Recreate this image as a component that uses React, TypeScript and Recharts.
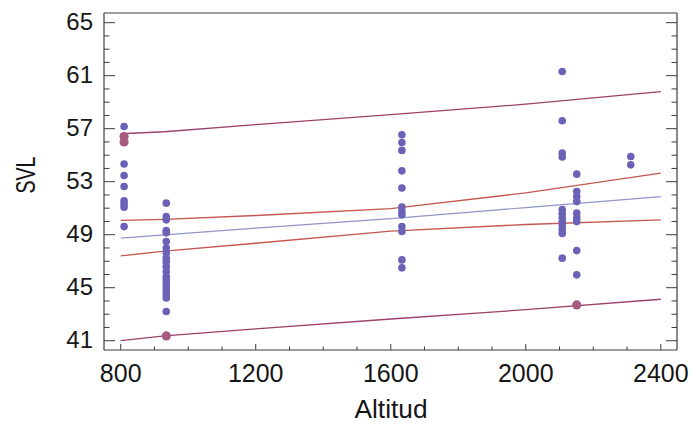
import { ComposedChart, Scatter, Line, XAxis, YAxis } from 'recharts';

// axis ticks
const xMajor = [800, 1200, 1600, 2000, 2400];
const xTicks = [800, 900, 1000, 1100, 1200, 1300, 1400, 1500, 1600, 1700, 1800, 1900, 2000, 2100, 2200, 2300, 2400];
const yMajor = [41, 45, 49, 53, 57, 61, 65];
const yTicks = [41, 42, 43, 44, 45, 46, 47, 48, 49, 50, 51, 52, 53, 54, 55, 56, 57, 58, 59, 60, 61, 62, 63, 64, 65];

const bandAlt = [800, 930, 1200, 1600, 2000, 2400];
const fitSVL = [48.74, 48.98, 49.5, 50.22, 51.05, 51.88];
const confUpper = [50.08, 50.16, 50.45, 50.97, 52.16, 53.65];
const confLower = [47.4, 47.76, 48.36, 49.27, 49.77, 50.12];
const predUpper = [56.62, 56.77, 57.31, 58.06, 58.85, 59.79];
const predLower = [41.01, 41.36, 41.9, 42.64, 43.34, 44.13];

// observations per site
const siteAlt = [810, 935, 1633, 2108, 2151, 2311];
const svl810 = [57.17, 54.33, 53.47, 52.64, 51.56, 51.33, 51.08, 49.61];
const svl935 = [51.38, 50.37, 50.12, 49.31, 49.14, 48.48, 48.0, 47.63, 47.23, 46.95, 46.59, 46.22, 45.84, 45.59, 45.34, 45.06, 44.76, 44.46, 44.23, 43.2];
const svl1633 = [56.54, 55.96, 55.36, 53.82, 52.52, 51.08, 50.75, 50.5, 49.61, 49.24, 47.1, 46.5];
const svl2108 = [61.32, 57.6, 55.16, 54.86, 50.9, 50.6, 50.3, 50.0, 49.7, 49.4, 49.1, 47.23];
const svl2151 = [53.57, 52.26, 51.88, 51.5, 50.63, 50.27, 49.99, 47.8, 45.97];
const svl2311 = [54.9, 54.27];

// highlighted points
const flaggedAlt = [810, 810, 935, 2151];
const flaggedSVL = [56.41, 56.0, 41.36, 43.7];

const siteSVL = [svl810, svl935, svl1633, svl2108, svl2151, svl2311];
const points = siteAlt.flatMap((alt, i) => siteSVL[i].map((svl) => ({ alt, svl })));
const flagged = flaggedAlt.map((alt, i) => ({ alt, svl: flaggedSVL[i] }));
const bands = bandAlt.map((alt, i) => ({
  alt,
  fit: fitSVL[i],
  cu: confUpper[i],
  cl: confLower[i],
  pu: predUpper[i],
  pl: predLower[i],
}));

const X_DOMAIN = [750.5, 2448];
const Y_DOMAIN = [40.3, 65.73];
const AXIS = '#3c3c3c';
const FONT = '"Liberation Sans", Arial, Helvetica, sans-serif';
const TEXT = '#161616';

function BottomTick({ x, y, payload }: any) {
  const major = xMajor.includes(payload.value);
  return (
    <g>
      <line x1={x} x2={x} y1={y} y2={y - (major ? 6 : 3.5)} stroke={AXIS} />
      {major && (
        <text x={x} y={y + 31.5} textAnchor="middle" fontSize={25} fontFamily={FONT} fill={TEXT}>
          {payload.value}
        </text>
      )}
    </g>
  );
}

function TopTick({ x, y, payload }: any) {
  const major = xMajor.includes(payload.value);
  return <line x1={x} x2={x} y1={y} y2={y + (major ? 6 : 3.5)} stroke={AXIS} />;
}

function LeftTick({ x, y, payload }: any) {
  const major = yMajor.includes(payload.value);
  return (
    <g>
      <line x1={x} x2={x + (major ? 11 : 5.5)} y1={y} y2={y} stroke={AXIS} />
      {major && (
        <text x={x - 11} y={y + 7.5} textAnchor="end" fontSize={24} fontFamily={FONT} fill={TEXT}>
          {payload.value}
        </text>
      )}
    </g>
  );
}

function RightTick({ x, y, payload }: any) {
  const major = yMajor.includes(payload.value);
  return <line x1={x} x2={x - (major ? 11 : 5.5)} y1={y} y2={y} stroke={AXIS} />;
}

const Dot = (p: any) => <circle cx={p.cx} cy={p.cy} r={3.8} fill="#6a62b6" />;
const FlagDot = (p: any) => <circle cx={p.cx} cy={p.cy} r={4.6} fill="#a65c7e" />;

export default function App() {
  return (
    <div style={{ position: 'absolute', left: 0, top: 0, background: '#fff' }}>
      <ComposedChart width={691} height={425} margin={{ top: 13, right: 14, bottom: 0, left: 0 }}>
        <XAxis
          xAxisId="b"
          dataKey="alt"
          type="number"
          domain={X_DOMAIN}
          allowDataOverflow
          ticks={xTicks}
          interval={0}
          height={75}
          tickSize={0}
          tickMargin={0}
          tickLine={false}
          axisLine={{ stroke: AXIS, strokeWidth: 1.2 }}
          tick={(p: any) => <BottomTick {...p} />}
          label={{
            content: () => (
              <text x={391} y={418} textAnchor="middle" fontSize={26} fontFamily={FONT} fill={TEXT} textLength={73} lengthAdjust="spacingAndGlyphs">
                Altitud
              </text>
            ),
          }}
        />
        <XAxis
          xAxisId="t"
          orientation="top"
          mirror
          type="number"
          domain={X_DOMAIN}
          allowDataOverflow
          ticks={xTicks}
          interval={0}
          tickSize={0}
          tickMargin={0}
          tickLine={false}
          axisLine={{ stroke: AXIS, strokeWidth: 1.2 }}
          tick={(p: any) => <TopTick {...p} />}
        />
        <YAxis
          yAxisId="l"
          dataKey="svl"
          type="number"
          domain={Y_DOMAIN}
          allowDataOverflow
          ticks={yTicks}
          interval={0}
          width={104}
          tickSize={0}
          tickMargin={0}
          tickLine={false}
          axisLine={{ stroke: AXIS, strokeWidth: 1.2 }}
          tick={(p: any) => <LeftTick {...p} />}
          label={{
            content: () => (
              <text transform="translate(35,175) rotate(-90)" x={0} y={0} textAnchor="middle" fontSize={27} fontFamily={FONT} fill={TEXT} textLength={37} lengthAdjust="spacingAndGlyphs">
                SVL
              </text>
            ),
          }}
        />
        <YAxis
          yAxisId="r"
          orientation="right"
          mirror
          type="number"
          domain={Y_DOMAIN}
          allowDataOverflow
          ticks={yTicks}
          interval={0}
          tickSize={0}
          tickMargin={0}
          tickLine={false}
          axisLine={{ stroke: AXIS, strokeWidth: 1.2 }}
          tick={(p: any) => <RightTick {...p} />}
        />
        <Line xAxisId="b" yAxisId="l" data={bands} dataKey="pu" type="linear" stroke="#9c416d" strokeWidth={1.3} dot={false} isAnimationActive={false} />
        <Line xAxisId="b" yAxisId="l" data={bands} dataKey="pl" type="linear" stroke="#9c416d" strokeWidth={1.3} dot={false} isAnimationActive={false} />
        <Line xAxisId="b" yAxisId="l" data={bands} dataKey="cu" type="linear" stroke="#c4574f" strokeWidth={1.4} dot={false} isAnimationActive={false} />
        <Line xAxisId="b" yAxisId="l" data={bands} dataKey="cl" type="linear" stroke="#c4574f" strokeWidth={1.4} dot={false} isAnimationActive={false} />
        <Line xAxisId="b" yAxisId="l" data={bands} dataKey="fit" type="linear" stroke="#9096c8" strokeWidth={1.2} dot={false} isAnimationActive={false} />
        <Scatter xAxisId="b" yAxisId="l" data={points} shape={Dot} isAnimationActive={false} />
        <Scatter xAxisId="b" yAxisId="l" data={flagged} shape={FlagDot} isAnimationActive={false} />
      </ComposedChart>
    </div>
  );
}
